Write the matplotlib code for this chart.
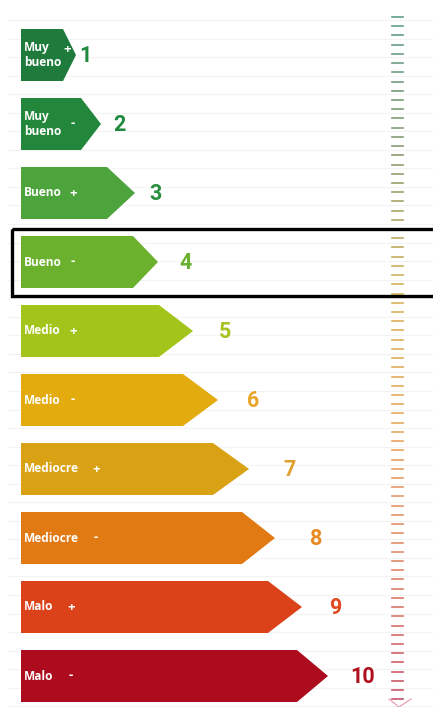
import numpy as np
import matplotlib
matplotlib.use("Agg")
import matplotlib.pyplot as plt
from matplotlib.patches import Polygon, Rectangle
from matplotlib.colors import LinearSegmentedColormap

# ── data ─────────────────────────────────────────────────────────
levels = [1, 2, 3, 4, 5, 6, 7, 8, 9, 10]
names = ["Muy\nbueno", "Muy\nbueno", "Bueno", "Bueno", "Medio", "Medio",
         "Mediocre", "Mediocre", "Malo", "Malo"]
signs = ["+", "-", "+", "-", "+", "-", "+", "-", "+", "-"]
body_end = [63, 81, 107, 133, 159, 183, 213, 242, 268, 297]
tip_end = [76, 101, 135, 158, 193, 218, 249, 275, 302, 328]
number_x = [85, 119, 156, 186, 225, 253, 289, 316, 335, 363]
sign_x = [67, 73, 73, 73, 73, 73, 96, 96, 71, 71]
highlight = 4

bar_colors = ["#1e7b3c", "#23873b", "#4ea43c", "#6bb12e", "#a3c41a",
              "#e3ab0e", "#d9a114", "#e27a13", "#dc4219", "#ac0c1e"]
num_colors = ["#1f8a3e", "#1f8a3e", "#2a8f3e", "#6ab02e", "#a6c21e",
              "#e8a52a", "#e0a030", "#e88a20", "#e04a20", "#b0101e"]

# ── layout (pixel space) ─────────────────────────────────────────
W, H = 433, 707
x0 = 21
top0 = 29
step = 69.0
bar_h = 52

fig = plt.figure(figsize=(W / 100, H / 100), dpi=100)
ax = fig.add_axes([0, 0, 1, 1])
ax.set_xlim(0, W)
ax.set_ylim(H, 0)
ax.axis("off")

# faint background rules
for y in np.arange(20, H, 18.55):
    ax.plot([8, W], [y, y], color="#f3f3f3", lw=0.8, zorder=0)

# scale of dashes on the right
dash_y = np.arange(17, 700, 9.22)
cmap = LinearSegmentedColormap.from_list(
    "scale", ["#5e9e8c", "#8a9a70", "#d6b45a", "#e8a860", "#e08a6a", "#c85068"])
for k, y in enumerate(dash_y):
    ax.plot([392, 403], [y, y], color=cmap(k / (len(dash_y) - 1)), lw=1.2, zorder=1)
ax.plot([389, 399, 411], [699, 707, 699], color="#e8a0b0", lw=0.9, zorder=1)

label_font = ["Open Sans", "DejaVu Sans"]
num_font = ["Roboto", "DejaVu Sans"]

for i, lvl in enumerate(levels):
    top = top0 + i * step
    bot = top + bar_h
    mid = (top + bot) / 2
    verts = [(x0, top), (body_end[i], top), (tip_end[i], mid),
             (body_end[i], bot), (x0, bot)]
    ax.add_patch(Polygon(verts, closed=True, facecolor=bar_colors[i],
                         edgecolor="none", zorder=2))
    ax.text(24, mid, names[i], color="white", fontsize=8.6, fontweight="bold",
            family=label_font, va="center", ha="left", linespacing=1.2, zorder=3)
    sy = mid - 5 if "\n" in names[i] and signs[i] == "+" else mid
    ax.text(sign_x[i], sy, signs[i], color="white", fontsize=9.5, fontweight="bold",
            family=label_font, va="center", ha="center", zorder=3)
    ax.text(number_x[i], mid + 1, str(lvl), color=num_colors[i], fontsize=15.5,
            fontweight="bold", family=num_font, va="center", ha="center", zorder=3)

# highlight frame around the selected level
hi = highlight - 1
ht = top0 + hi * step
ax.add_patch(Rectangle((11.5, ht - 7.5), 440, bar_h + 15, fill=False,
                       edgecolor="black", lw=2.4, zorder=4, clip_on=True))

fig.savefig("out.png", dpi=100)
